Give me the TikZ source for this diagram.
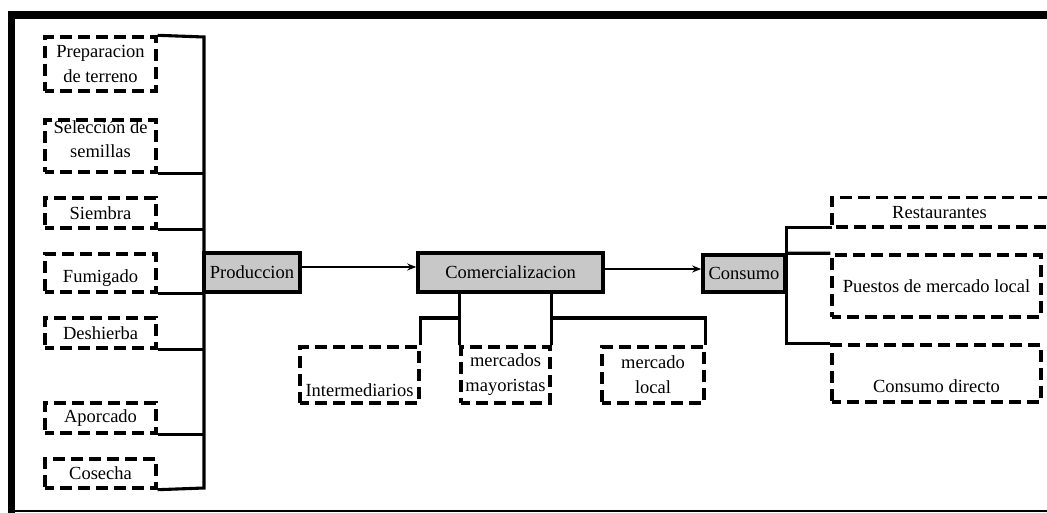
\documentclass[tikz,border=0pt]{standalone}
\usepackage{fontspec}
\setmainfont{Liberation Serif}
\usetikzlibrary{arrows.meta}
\definecolor{boxgray}{RGB}{200,200,200}
\newcommand\lowtext[2]{\raisebox{#1}[\height][\depth]{#2}}
\begin{document}
\begin{tikzpicture}[x=1pt,y=-1pt,
  every node/.style={font=\fontsize{18.5}{25}\selectfont, inner sep=0pt, align=center},
  dline/.style={line width=3.4pt, dash pattern=on 12pt off 6pt, dash phase=3pt},
  dbox/.style={draw, dline},
  gbox/.style={draw, fill=boxgray, line width=3.6pt},
  conn/.style={line width=3.1pt},
  arr/.style={line width=2.2pt, -{Stealth[length=9pt,width=7pt]}}]
\useasboundingbox (0,0) rectangle (1047,513);
% frame
\draw[line width=7pt] (11.5,11) -- (11.5,513);
\draw[line width=8pt] (8,15) -- (1047,15);
\draw[line width=2pt] (8,510.5) -- (1047,510.5);
% left column
\node[dbox, minimum width=111pt, minimum height=54pt] (prep) at (100.5,64) {Preparacion\\de terreno};
\node[dbox, minimum width=111pt, minimum height=52pt] (sele) at (100.5,146) {\lowtext{5pt}{\begin{tabular}{@{}c@{}}Selección de\\[-1pt]semillas\end{tabular}}};
\node[dbox, minimum width=111pt, minimum height=30pt] (siem) at (100.5,213) {Siembra};
\node[dbox, minimum width=111pt, minimum height=38pt] (fumi) at (100.5,273) {\lowtext{-5pt}{Fumigado}};
\node[dbox, minimum width=111pt, minimum height=30pt] (desh) at (100.5,333) {Deshierba};
\node[dbox, minimum width=111pt, minimum height=30pt] (apor) at (100.5,418) {Aporcado};
\node[dbox, minimum width=111pt, minimum height=29pt] (cose) at (100.5,473.5) {Cosecha};
% main boxes
\node[gbox, minimum width=96pt, minimum height=39pt] (prod) at (252,272.5) {Produccion};
\node[gbox, minimum width=185pt, minimum height=39pt] (comm) at (510.5,272.5) {Comercializacion};
\node[gbox, minimum width=82pt, minimum height=37pt] (cons) at (744,273.5) {Consumo};
% middle boxes
\node[dbox, minimum width=119pt, minimum height=56pt] (inter) at (359.5,375) {\lowtext{-15pt}{Intermediarios}};
\node[dbox, minimum width=89pt, minimum height=56pt] (may) at (505.5,375) {mercados\\mayoristas};
\node[dbox, minimum width=102pt, minimum height=56pt] (loc) at (653,375) {mercado\\local};
% right boxes
\node[minimum width=215pt, minimum height=29pt] (rest) at (939.5,212.5) {Restaurantes};
\draw[dline] (rest.north east) -- (rest.north west) -- (rest.south west) -- (rest.south east);
\node[dbox, minimum width=209pt, minimum height=62pt] (pues) at (936.5,286) {Puestos de mercado local};
\node[dbox, minimum width=209pt, minimum height=57pt] (dir) at (936.5,373.5) {\lowtext{-13pt}{Consumo directo}};
% left spine
\coordinate (st) at (204,37);
\coordinate (sb) at (204,488);
\draw[conn] (prep.north east) -- (st) -- (sb) -- (cose.south east);
\foreach \n in {sele,siem,fumi,desh,apor}
  \draw[conn] (\n.south east) -- (\n.south east -| st);
% arrows
\draw[arr] ([yshift=5.5pt]prod.east) -- ([yshift=5.5pt]prod.east -| comm.west);
\draw[arr] ([yshift=3.5pt]comm.east) -- ([yshift=3.5pt]comm.east -| cons.west);
% commercialisation branches
\coordinate (jl) at (461,318);
\coordinate (jr) at (550,318);
\draw[conn] (may.north west) -- (may.north west |- comm.south);
\draw[conn] (may.north east) -- (may.north east |- comm.south);
\draw[conn] (inter.north east) |- (jl);
\draw[conn] (loc.north east) |- (jr);
% consumption branches
\draw[conn] (rest.south west) -- (rest.south west -| cons.east) -- (dir.north west -| cons.east) -- (dir.north west);
\draw[conn] (cons.north east) -- (pues.north west);
\end{tikzpicture}
\end{document}
